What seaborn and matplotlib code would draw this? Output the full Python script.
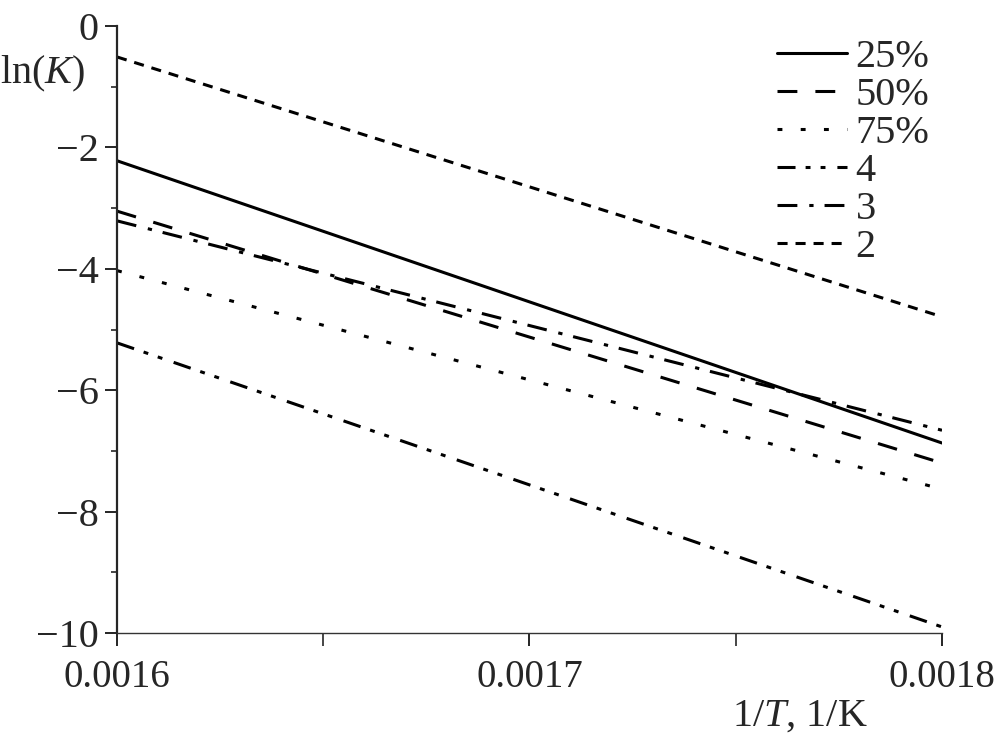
import numpy as np
import pandas as pd
import matplotlib
matplotlib.use("Agg")
import matplotlib.pyplot as plt
import seaborn as sns
from matplotlib.ticker import MultipleLocator, FixedLocator

# end points of each straight line
inv_t = [0.0016, 0.0018]
series_names = ["25%", "50%", "75%", "4", "3", "2"]
ln_k_25 = [-2.22, -6.87]
ln_k_50 = [-3.05, -7.20]
ln_k_75 = [-4.03, -7.63]
ln_k_4 = [-5.22, -9.90]
ln_k_3 = [-3.21, -6.66]
ln_k_2 = [-0.51, -4.79]
x_ticks = [0.0016, 0.0017, 0.0018]
x_tick_labels = ["0.0016", "0.0017", "0.0018"]

sns.set_style("ticks")
plt.rcParams["font.family"] = ["Liberation Serif", "DejaVu Serif"]
plt.rcParams["mathtext.fontset"] = "custom"
plt.rcParams["mathtext.rm"] = "Liberation Serif"
plt.rcParams["mathtext.it"] = "Liberation Serif:italic"

all_y = [ln_k_25, ln_k_50, ln_k_75, ln_k_4, ln_k_3, ln_k_2]
df = pd.concat(
    [pd.DataFrame({"x": inv_t, "y": ys, "series": name})
     for name, ys in zip(series_names, all_y)],
    ignore_index=True,
)

dash_styles = {
    "25%": "",
    "50%": (6.5, 5.9),
    "75%": (1.6, 6.0),
    "4": (5.9, 3.3, 1.6, 3.3, 1.6, 3.9),
    "3": (6.5, 3.9, 1.4, 3.6),
    "2": (3.3, 2.6),
}

fig = plt.figure(figsize=(9.94, 7.43), dpi=100)
ax = fig.add_axes([117 / 994, 110 / 743, 825 / 994, 607 / 743])

sns.lineplot(data=df, x="x", y="y", style="series", style_order=series_names,
             dashes=dash_styles, color="black", lw=2.2, ax=ax, legend=True)

ax.set_xlim(0.0016, 0.0018)
ax.set_ylim(-10, 0)
ax.xaxis.set_major_locator(FixedLocator(x_ticks))
ax.set_xticklabels(x_tick_labels)
ax.xaxis.set_minor_locator(FixedLocator([0.00165, 0.00175]))
ax.yaxis.set_major_locator(MultipleLocator(2))
ax.yaxis.set_minor_locator(MultipleLocator(1))
ax.set_yticklabels([f"\u2212{abs(int(v))}" if v < 0 else f"{int(v)}"
                    for v in ax.get_yticks()])

ax.tick_params(axis="both", which="major", length=9, width=1.2,
               labelsize=29, pad=4, color="black")
ax.tick_params(axis="x", which="minor", length=9, width=1.2)
ax.tick_params(axis="y", which="minor", length=4.5, width=1.2)
ax.tick_params(axis="x", which="major", pad=10, labelsize=28)

sns.despine(ax=ax)
ax.spines["left"].set_linewidth(1.6)
ax.spines["bottom"].set_linewidth(1.0)
ax.spines["bottom"].set_color("#333333")
ax.set_xlabel("")
ax.set_ylabel("")

fig.text(0.0, 1 - 74 / 743, r"ln($\mathit{K}$)", fontsize=29,
         ha="left", va="center")
fig.text(800 / 994, 1 - 716 / 743, r"1/$\mathit{T}$, 1/K", fontsize=29,
         ha="center", va="center")

handles, labels = ax.get_legend_handles_labels()
ax.legend(handles, labels, loc="upper left",
          bbox_to_anchor=(777 / 994, 1 - 39 / 743),
          bbox_transform=fig.transFigure, frameon=False, fontsize=29,
          handlelength=1.75, handletextpad=0.2, labelspacing=0.02,
          borderpad=0, borderaxespad=0)

fig.savefig("out.png", dpi=100)
